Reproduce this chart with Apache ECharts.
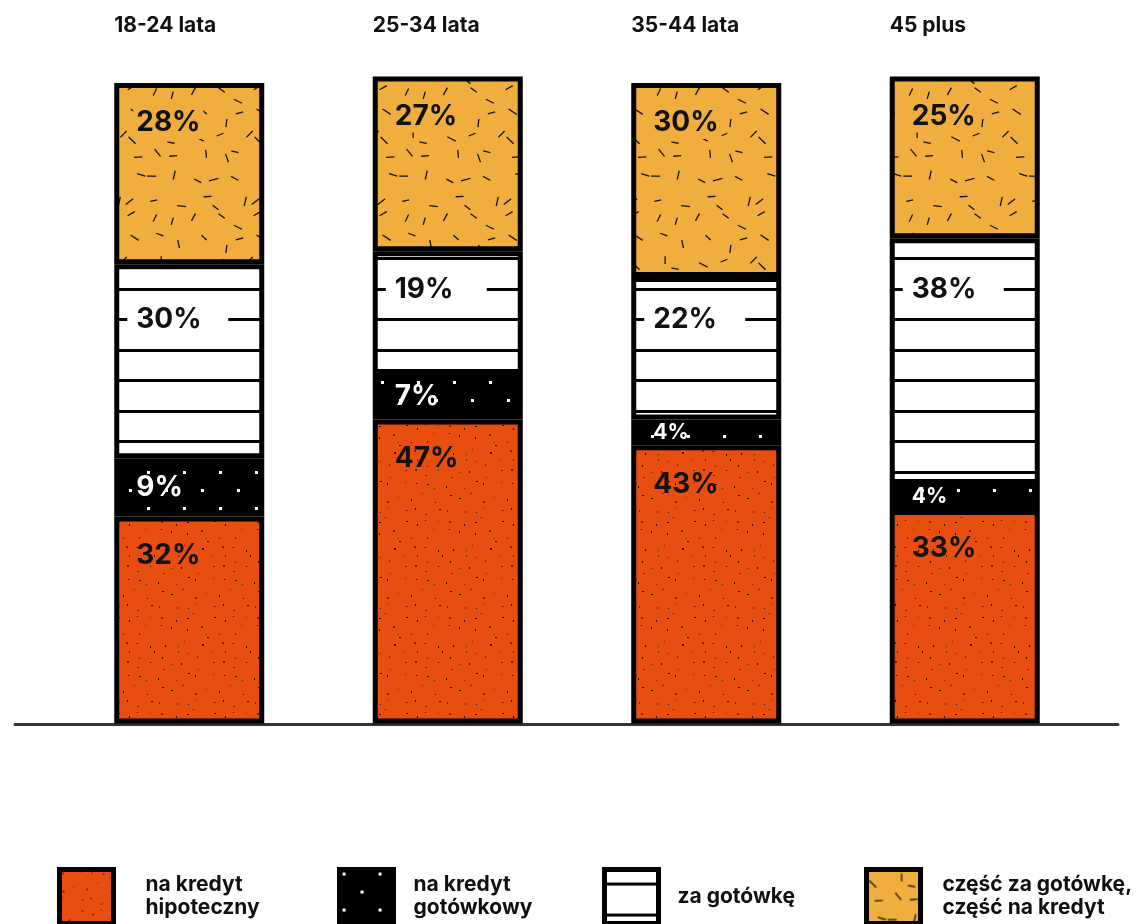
<!DOCTYPE html>
<html>
<head>
<meta charset="utf-8">
<script src="https://cdn.jsdelivr.net/npm/echarts@6/dist/echarts.min.js"></script>
<style>
  html, body { margin: 0; padding: 0; background: #fff; }
  #chart { width: 1142px; height: 924px; }
</style>
</head>
<body>
<div id="chart"></div>
<script>
// Age groups and the share (%) of each way of paying for the flat
const ageGroups = ['18-24 lata', '25-34 lata', '35-44 lata', '45 plus'];
const mortgage  = [32, 47, 43, 33];   // na kredyt hipoteczny
const cashLoan  = [9, 7, 4, 4];       // na kredyt gotówkowy
const cash      = [30, 19, 22, 38];   // za gotówkę
const mixed     = [28, 27, 30, 25];   // część za gotówkę, część na kredyt
const seriesNames = [
  'na kredyt\nhipoteczny',
  'na kredyt\ngotówkowy',
  'za gotówkę',
  'część za gotówkę,\nczęść na kredyt'
];

const FONT = 'Inter, "Liberation Sans", Arial, sans-serif';
const INK = '#111';

// ---- fill textures -------------------------------------------------------
function seeded(seed) {
  let s = seed >>> 0;
  return () => { s = (Math.imul(s, 1664525) + 1013904223) >>> 0; return s / 4294967296; };
}
function tile(w, h, draw) {
  const c = document.createElement('canvas');
  c.width = w; c.height = h;
  draw(c.getContext('2d'), w, h);
  return { image: c, repeat: 'repeat' };
}
// visit the cells of a jittered grid so marks spread evenly over a tile
function jittered(w, h, cols, rows, seed, fn) {
  const r = seeded(seed), cw = w / cols, ch = h / rows;
  for (let j = 0; j < rows; j++) {
    for (let i = 0; i < cols; i++) {
      fn((i + 0.1 + r() * 0.8) * cw, (j + 0.1 + r() * 0.8) * ch, r);
    }
  }
}
// orange with fine dark speckles
const speckle = tile(96, 96, (g, w, h) => {
  g.fillStyle = '#e84e10'; g.fillRect(0, 0, w, h);
  jittered(w, h, 8, 8, 11, (x, y, r) => {
    g.fillStyle = r() < 0.5 ? 'rgba(0,0,0,0.8)' : 'rgba(100,26,4,0.85)';
    g.fillRect(Math.floor(x), Math.floor(y), r() < 0.6 ? 1 : 2, r() < 0.6 ? 1 : 2);
  });
});
// black with a staggered grid of white dots
const dots = tile(36, 36, (g, w, h) => {
  g.fillStyle = '#000'; g.fillRect(0, 0, w, h);
  g.fillStyle = '#fff';
  g.fillRect(3, 3, 3, 3);
  g.fillRect(21, 21, 3, 3);
});
// white with horizontal rules, 30.5 px apart
const STRIPE_PERIOD = 61;
const STRIPE_LINES = [14.5, 45.5];
const stripes = tile(8, STRIPE_PERIOD, (g, w, h) => {
  g.fillStyle = '#fff'; g.fillRect(0, 0, w, h);
  g.fillStyle = '#000';
  STRIPE_LINES.forEach(y => g.fillRect(0, y - 1.5, w, 3));
});
// amber with short scattered dashes
const dashes = tile(126, 126, (g, w, h) => {
  g.fillStyle = '#f0ae3e'; g.fillRect(0, 0, w, h);
  g.strokeStyle = '#111'; g.lineWidth = 1.3; g.lineCap = 'butt';
  jittered(w, h, 6, 6, 5, (x, y, r) => {
    const a = r() * Math.PI, len = 7 + r() * 3;
    const dx = Math.cos(a) * len / 2, dy = Math.sin(a) * len / 2;
    for (const ox of [-w, 0, w]) for (const oy of [-h, 0, h]) {
      g.beginPath();
      g.moveTo(x + ox - dx, y + oy - dy);
      g.lineTo(x + ox + dx, y + oy + dy);
      g.stroke();
    }
  });
});

// ---- series ---------------------------------------------------------------
const pctLabel = {
  show: true,
  formatter: '{c}%',
  fontFamily: FONT,
  fontWeight: 'bold',
  fontSize: 28,
  color: INK,
  align: 'left',
  verticalAlign: 'middle'
};
function barSeries(name, values, fill, label) {
  return {
    name, type: 'bar', stack: 'total', barWidth: 150,
    data: values,
    itemStyle: { color: fill, borderColor: '#000', borderWidth: 5 },
    label: Object.assign({}, pctLabel, label),
    emphasis: { disabled: true },
    xAxisIndex: 0, yAxisIndex: 0
  };
}

const series = [
  barSeries(seriesNames[0], mortgage, speckle, { position: [22, 39] }),
  barSeries(seriesNames[1], cashLoan.map(v => ({ value: v, label: { fontSize: v < 5 ? 21 : 28 } })),
            dots, { position: [22, '50%'], color: '#fff' }),
  barSeries(seriesNames[2], cash, stripes, {
    position: [13, 48], backgroundColor: '#fff', padding: [4, 0, 4, 9], width: 92
  }),
  barSeries(seriesNames[3], mixed, dashes, {
    position: [19, 40], backgroundColor: '#f0ae3e', padding: [2, 3, 2, 3]
  })
];

// legend: one block per series, placed along the bottom edge
const legendLeft = [57, 337, 602, 864];
const legendGap  = [27, 15, 14, 17];
const legend = seriesNames.map((n, i) => ({
  data: [n],
  left: legendLeft[i],
  top: 867,
  padding: 0,
  icon: 'rect',
  itemWidth: 54,
  itemHeight: 54,
  selectedMode: false,
  itemStyle: { borderColor: '#000', borderWidth: 5 },
  textStyle: {
    fontFamily: FONT, fontWeight: 'bold', fontSize: 21, lineHeight: 23, color: INK,
    padding: n.indexOf('\n') < 0 ? [0, 0, 23, legendGap[i]] : [0, 0, 0, legendGap[i]]
  }
}));

const option = {
  animation: false,
  backgroundColor: '#fff',
  textStyle: { fontFamily: FONT },
  grid: [
    { left: 60, right: 48, top: 76.5, bottom: 200.5 },
    { left: 15, right: 24, top: 76.5, bottom: 199.5 }
  ],
  xAxis: [
    {
      type: 'category', data: ageGroups, gridIndex: 0, position: 'top',
      axisLine: { show: false }, axisTick: { show: false },
      axisLabel: {
        margin: 40, align: 'center',
        formatter: v => '{t|' + v + '}',
        rich: { t: { width: 150, align: 'left', fontFamily: FONT, fontSize: 21, fontWeight: 'bold', color: INK } }
      }
    },
    {
      // base line running under the bars
      type: 'value', gridIndex: 1, min: 0, max: 1,
      axisLine: { show: true, onZero: false, lineStyle: { color: '#333', width: 3 } },
      axisTick: { show: false }, axisLabel: { show: false }, splitLine: { show: false }
    }
  ],
  yAxis: [
    { type: 'value', gridIndex: 0, min: 0, max: 100, show: false },
    { type: 'value', gridIndex: 1, min: 0, max: 1, show: false }
  ],
  legend,
  series
};

const chart = echarts.init(document.getElementById('chart'), null, { renderer: 'canvas' });
chart.setOption(option);

// Sit each "za gotówkę" label on one of the rules of the striped fill,
// so its white box interrupts a rule instead of floating between two.
function ruleBelow(y) {
  const k = Math.floor(y / STRIPE_PERIOD) - 1;
  for (let j = k; j < k + 4; j++) {
    for (const off of STRIPE_LINES) {
      const ly = j * STRIPE_PERIOD + off;
      if (ly >= y) return ly;
    }
  }
  return y;
}
const cashData = cash.map((v, i) => {
  const top = chart.convertToPixel({ seriesIndex: 2 }, [i, mortgage[i] + cashLoan[i] + v])[1];
  const lineY = ruleBelow(top + 35);
  return { value: v, label: { position: [13, lineY - top] } };
});
chart.setOption({ series: [{}, {}, { data: cashData }, {}] });
</script>
</body>
</html>
